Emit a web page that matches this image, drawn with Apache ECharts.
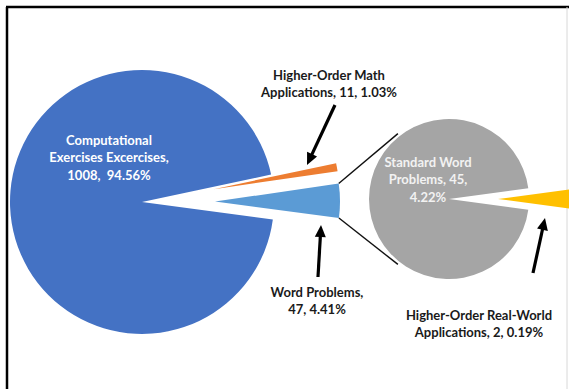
<!DOCTYPE html>
<html><head><meta charset="utf-8">
<script src="https://cdn.jsdelivr.net/npm/echarts@6/dist/echarts.min.js"></script>
<style>html,body{margin:0;padding:0;background:#fff;overflow:hidden}#c{width:569px;height:389px}</style>
</head><body><div id="c"></div>
<script>
// ---- data ----
const primaryNames = ['Higher-Order Math Applications', 'Word Problems', 'Computational Exercises Excercises'];
const primaryValues = [11, 47, 1008];
const secondaryNames = ['Higher-Order Real-World Applications', 'Standard Word Problems'];
const secondaryValues = [2, 45];
// label templates ({v} = value, {p} = percent of total)
const primaryLabels = ['Higher-Order Math\nApplications, {v}, {p}%', 'Word Problems,\n{v}, {p}%', 'Computational\nExercises Excercises,\n{v},  {p}%'];
const secondaryLabels = ['Higher-Order Real-World\nApplications, {v}, {p}%', 'Standard Word\nProblems, {v},\n{p}%'];

// ---- style / layout ----
const primaryColors = ['#ED7D31', '#5B9BD5', '#4472C4'];
const secondaryColors = ['#FFC000', '#A5A5A5'];
const P = { cx: 142, cy: 202, r: 132, rExp: 125, off: 73, start: 12 };
const S = { cx: 449, cy: 199, r: 80, off: 49 };
const labelPos = {
  p: [[329, 83.5, '#1a1a1a'], [317, 300.5, '#1a1a1a'], [109, 157, '#ffffff']],
  s: [[479, 323.5, '#1a1a1a'], [428, 179, '#f2f2f2']]
};
const arrows = [[335, 105, 307, 165], [318, 277, 321, 225], [533, 273, 545, 218]];

const total = primaryValues.reduce((a, b) => a + b, 0);
const secTotal = secondaryValues.reduce((a, b) => a + b, 0);
const fmt = (t, v) => t.replace('{v}', v).replace('{p}', (v / total * 100).toFixed(2));
const T = 'transparent';

const chart = echarts.init(document.getElementById('c'), null, { renderer: 'svg' });

const base = { type: 'pie', silent: true, animation: false, label: { show: false }, labelLine: { show: false },
  emphasis: { disabled: true }, clockwise: true, avoidLabelOverlap: false };

const mainSeries = Object.assign({}, base, {
  center: [P.cx, P.cy], radius: [0, P.r], startAngle: P.start,
  data: primaryValues.map((v, i) => ({ name: primaryNames[i], value: v, itemStyle: { color: i === 2 ? primaryColors[i] : T } }))
});
const explodedSeries = Object.assign({}, base, {
  center: [P.cx, P.cy], radius: [0, P.rExp], startAngle: P.start,
  selectedMode: 'multiple', selectedOffset: P.off,
  data: primaryValues.map((v, i) => ({ name: primaryNames[i], value: v, selected: i !== 2,
    itemStyle: { color: i === 2 ? T : primaryColors[i] } }))
});
const secStart = 360 * secondaryValues[0] / secTotal / 2;
const secSeries = Object.assign({}, base, {
  center: [S.cx, S.cy], radius: [0, S.r], startAngle: secStart,
  selectedMode: 'multiple', selectedOffset: S.off,
  data: secondaryValues.map((v, i) => ({ name: secondaryNames[i], value: v, selected: i === 0,
    itemStyle: { color: secondaryColors[i] } }))
});

// geometry for connector lines (from the Word Problems slice to the secondary pie)
const deg = Math.PI / 180;
const a0 = P.start - 360 * primaryValues[0] / total;
const a1 = a0 - 360 * primaryValues[1] / total;
const mid = (a0 + a1) / 2;
const ax = P.cx + P.off * Math.cos(mid * deg), ay = P.cy - P.off * Math.sin(mid * deg);
const c1 = [ax + P.rExp * Math.cos(a0 * deg), ay - P.rExp * Math.sin(a0 * deg)];
const c2 = [ax + P.rExp * Math.cos(a1 * deg), ay - P.rExp * Math.sin(a1 * deg)];
const ga = 128, gr = S.r + 3;
const g1 = [S.cx + gr * Math.cos(ga * deg), S.cy - gr * Math.sin(ga * deg)];
const g2 = [S.cx + gr * Math.cos(ga * deg), S.cy + gr * Math.sin(ga * deg)];

const graphics = [
  { type: 'line', shape: { x1: 7, y1: 7, x2: 7, y2: 400 }, style: { stroke: '#000', lineWidth: 2.5 } },
  { type: 'line', shape: { x1: 6, y1: 7, x2: 569, y2: 7 }, style: { stroke: '#000', lineWidth: 2.5 } },
  { type: 'line', shape: { x1: 567, y1: 7, x2: 567, y2: 400 }, style: { stroke: '#d8d8d8', lineWidth: 1 } },
  { type: 'line', shape: { x1: c1[0], y1: c1[1], x2: g1[0], y2: g1[1] }, style: { stroke: '#111', lineWidth: 1.4 } },
  { type: 'line', shape: { x1: c2[0], y1: c2[1], x2: g2[0], y2: g2[1] }, style: { stroke: '#111', lineWidth: 1.4 } }
];
arrows.forEach(([x1, y1, x2, y2]) => {
  const dx = x2 - x1, dy = y2 - y1, L = Math.hypot(dx, dy), ux = dx / L, uy = dy / L;
  const hl = 12, hw = 5.5;
  const bx = x2 - ux * hl, by = y2 - uy * hl;
  graphics.push({ type: 'line', shape: { x1, y1, x2: bx + ux * 2, y2: by + uy * 2 }, style: { stroke: '#000', lineWidth: 3.2 } });
  graphics.push({ type: 'polygon', shape: { points: [[x2, y2], [bx - uy * hw, by + ux * hw], [bx + uy * hw, by - ux * hw]] }, style: { fill: '#000' } });
});
const textStyle = (x, y, col, txt) => ({ type: 'text', x, y, z: 10,
  style: { text: txt, fill: col, font: 'bold 13px Lato, "Open Sans", sans-serif', align: 'center', verticalAlign: 'middle', lineHeight: 17.5 } });
primaryValues.forEach((v, i) => { const [x, y, c] = labelPos.p[i]; graphics.push(textStyle(x, y, c, fmt(primaryLabels[i], v))); });
secondaryValues.forEach((v, i) => { const [x, y, c] = labelPos.s[i]; graphics.push(textStyle(x, y, c, fmt(secondaryLabels[i], v))); });

chart.setOption({ animation: false, backgroundColor: '#fff', series: [mainSeries, explodedSeries, secSeries], graphic: graphics });
</script></body></html>
